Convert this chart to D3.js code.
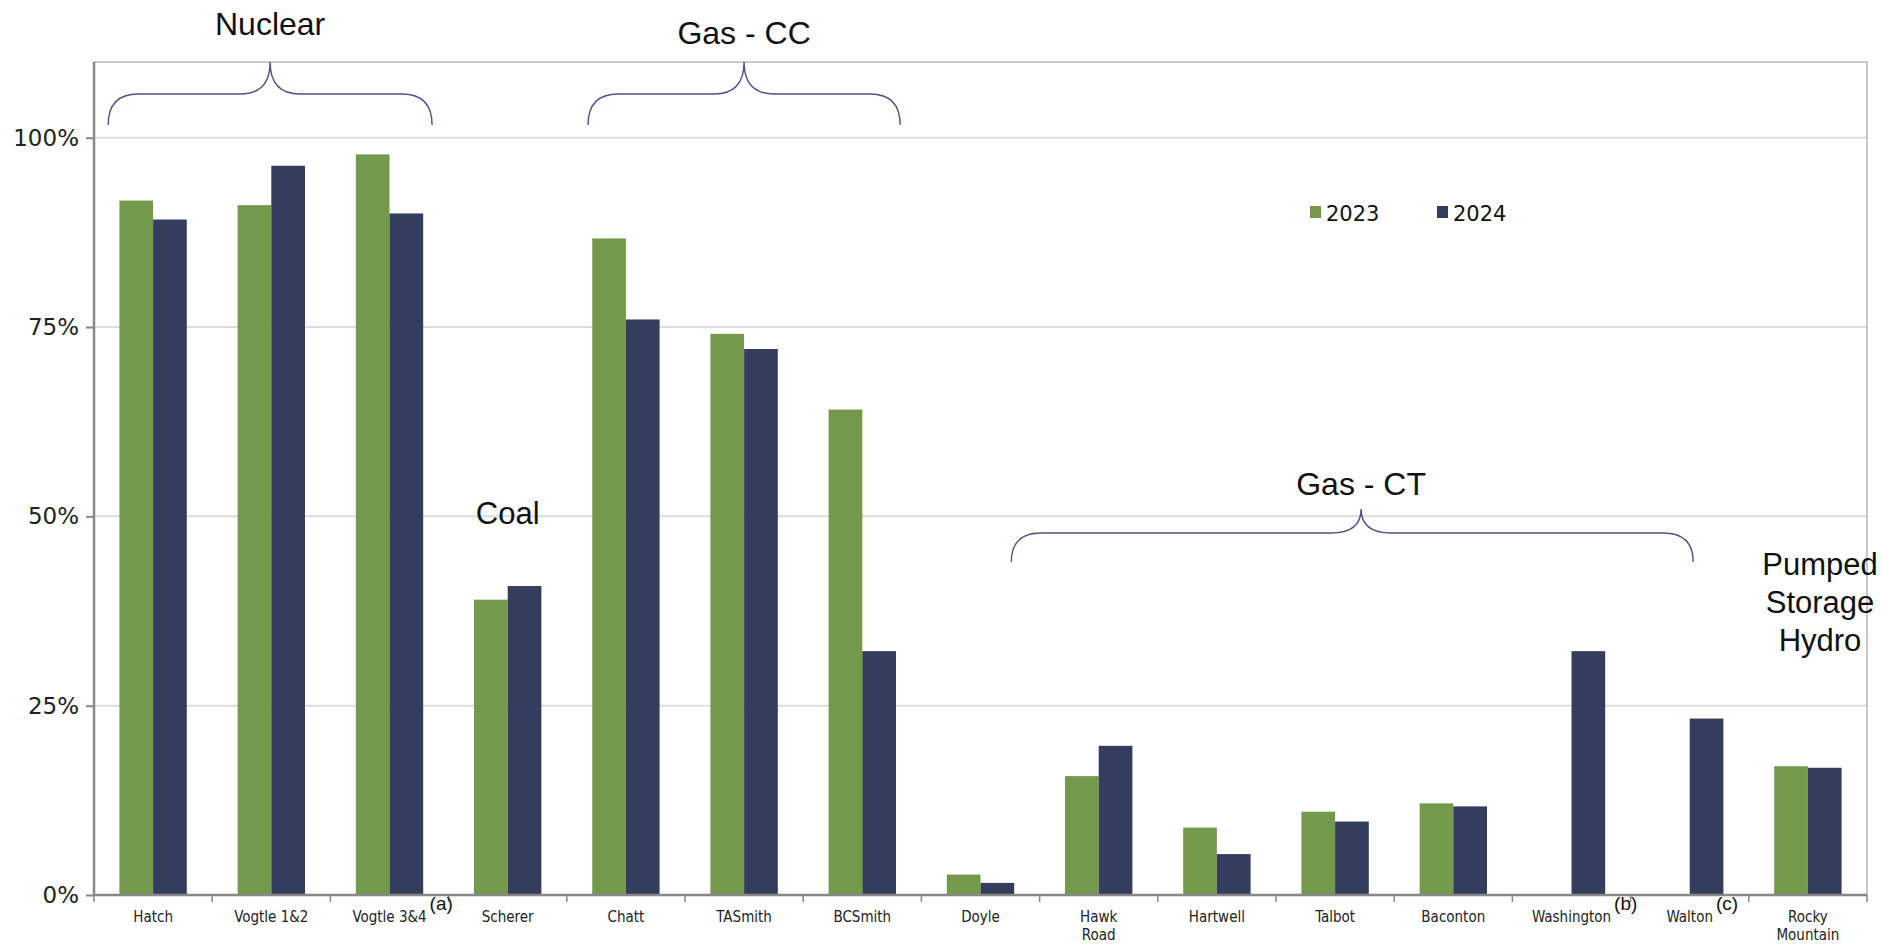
<!DOCTYPE html>
<html><head><meta charset="utf-8">
<script src="https://cdn.jsdelivr.net/npm/d3@7"></script>
<style>html,body{margin:0;padding:0;background:#fff;}svg{display:block;}</style>
</head><body>
<svg id="chart" width="1883" height="945"></svg>
<script>
const categories = ["Hatch","Vogtle 1&2","Vogtle 3&4","Scherer","Chatt","TASmith","BCSmith","Doyle","Hawk\nRoad","Hartwell","Talbot","Baconton","Washington","Walton","Rocky\nMountain"];
const seriesNames = ["2023","2024"];
const values2023 = [91.7,91.1,97.8,39.0,86.7,74.1,64.1,2.7,15.7,8.9,11.0,12.1,0,0,17.0];
const values2024 = [89.2,96.3,90.0,40.8,76.0,72.1,32.2,1.6,19.7,5.4,9.7,11.7,32.2,23.3,16.8];
const yTicks = [0,25,50,75,100];
const footnotes = [["Vogtle 3&4","(a)"],["Washington","(b)"],["Walton","(c)"]];
const groups = [
  {label:"Nuclear", from:"Hatch", to:"Vogtle 3&4"},
  {label:"Gas - CC", from:"Chatt", to:"BCSmith"},
  {label:"Gas - CT", from:"Doyle", to:"Walton"}
];
const colors = {"2023":"#739a4c","2024":"#353d5f"};

(function(){
const svg = d3.select("#chart");
const pL = 94, pR = 1867, pT = 62, pB = 895;
const x = d3.scaleBand().domain(categories).range([pL,pR]).paddingInner(0.43).paddingOuter(0.215);
const xs = d3.scaleBand().domain(seriesNames).range([0,x.bandwidth()]);
const y = d3.scaleLinear().domain([0,110]).range([pB,pT]);
const step = x.step();
const cx = c => x(c)+x.bandwidth()/2;

svg.append("g").selectAll("line").data(yTicks.filter(d=>d>0)).join("line")
  .attr("x1",pL).attr("x2",pR).attr("y1",d=>y(d)).attr("y2",d=>y(d))
  .attr("stroke","#dcdcdc").attr("stroke-width",2);

svg.append("path").attr("d",`M${pL},${pT}H${pR}V${pB}`).attr("fill","none").attr("stroke","#b8b8b8").attr("stroke-width",1.5);

const data = categories.map((c,i)=>({cat:c, vals:[{s:"2023",v:values2023[i]},{s:"2024",v:values2024[i]}]}));
const g = svg.append("g");
g.selectAll("g").data(data).join("g").attr("transform",d=>`translate(${x(d.cat)},0)`)
  .selectAll("rect").data(d=>d.vals.filter(v=>v.v>0)).join("rect")
  .attr("x",d=>xs(d.s)).attr("width",xs.bandwidth())
  .attr("y",d=>y(d.v)).attr("height",d=>y(0)-y(d.v)).attr("fill",d=>colors[d.s]);

const yAxis = svg.append("g").attr("transform",`translate(${pL},0)`)
  .call(d3.axisLeft(y).tickValues(yTicks).tickFormat(d=>d+"%").tickSize(8).tickPadding(7));
yAxis.select(".domain").attr("d",`M0,${pT}V${pB}`).attr("stroke","#888").attr("stroke-width",2.5);
yAxis.selectAll(".tick line").attr("stroke","#888").attr("stroke-width",2);
yAxis.selectAll(".tick text").attr("font-family","Verdana, 'DejaVu Sans', sans-serif").attr("font-size",23).attr("fill","#222");

const xa = svg.append("g");
xa.append("line").attr("x1",pL).attr("x2",pR).attr("y1",pB).attr("y2",pB).attr("stroke","#888").attr("stroke-width",2.5);
xa.selectAll("line.t").data(d3.range(categories.length+1)).join("line").attr("class","t")
  .attr("x1",i=>pL+i*step).attr("x2",i=>pL+i*step).attr("y1",pB).attr("y2",pB+7)
  .attr("stroke","#888").attr("stroke-width",1.5);
const labels = xa.selectAll("text.cat").data(categories).join("text").attr("class","cat")
  .attr("x",cx).attr("y",pB+27)
  .attr("text-anchor","middle").attr("font-family","'DejaVu Sans Condensed', 'DejaVu Sans', sans-serif")
  .attr("font-stretch","condensed").attr("font-size",15).attr("fill","#222");
labels.each(function(d){
  const t = d3.select(this);
  d.split("\n").forEach((ln,k)=>t.append("tspan").attr("x",cx(d)).attr("dy",k?18:0).text(ln));
});
footnotes.forEach(([c,m])=>{
  const node = labels.filter(d=>d===c).node();
  const w = node.getComputedTextLength();
  svg.append("text").attr("x",cx(c)+w/2+3).attr("y",pB+15)
    .attr("font-family","'Liberation Sans', Arial, sans-serif").attr("font-size",19).attr("fill","#111").text(m);
});

const lg = svg.append("g");
seriesNames.forEach((s,i)=>{
  const lx = 1310 + i*127;
  lg.append("rect").attr("x",lx).attr("y",206).attr("width",11).attr("height",12).attr("fill",colors[s]);
  lg.append("text").attr("x",lx+16).attr("y",221).attr("font-family","Verdana, 'DejaVu Sans', sans-serif")
    .attr("font-size",21).attr("fill","#111").text(s);
});

function brace(x0,x1,xt,yTip,yMid,yEnd){
  const r=Math.min(30,(x1-x0)/8);
  return `M${x0},${yEnd} Q${x0},${yMid} ${x0+r},${yMid} L${xt-r},${yMid} Q${xt},${yMid} ${xt},${yTip} Q${xt},${yMid} ${xt+r},${yMid} L${x1-r},${yMid} Q${x1},${yMid} ${x1},${yEnd}`;
}
const gl = svg.append("g").attr("font-family","'Liberation Sans', Arial, sans-serif").attr("fill","#111");
// [start offset, end offset (in steps from first/last category centres), tip fraction, yTip, yMid, yEnd, label y]
const braceSpec = {"Nuclear":[-0.38,0.36,0.5,62,94,125,35],"Gas - CC":[-0.32,0.32,0.5,62,94,125,44],"Gas - CT":[0.26,0.03,0.513,509,533,562,495]};
groups.forEach(gr=>{
  const [o0,o1,tf,a,b,c,ly] = braceSpec[gr.label];
  const x0 = cx(gr.from)+o0*step, x1 = cx(gr.to)+o1*step, xt=x0+tf*(x1-x0);
  svg.append("path").attr("d",brace(x0,x1,xt,a,b,c)).attr("fill","none").attr("stroke","#4a5488").attr("stroke-width",1.4);
  gl.append("text").attr("x",xt).attr("y",ly).attr("text-anchor","middle").attr("font-size",32).text(gr.label);
});
gl.append("text").attr("x",cx("Scherer")).attr("y",524).attr("text-anchor","middle").attr("font-size",31).text("Coal");
const ph = gl.append("text").attr("text-anchor","middle").attr("font-size",31);
["Pumped","Storage","Hydro"].forEach((ln,k)=>ph.append("tspan").attr("x",1820).attr("y",575+k*38).text(ln));
})();
</script>
</body></html>
